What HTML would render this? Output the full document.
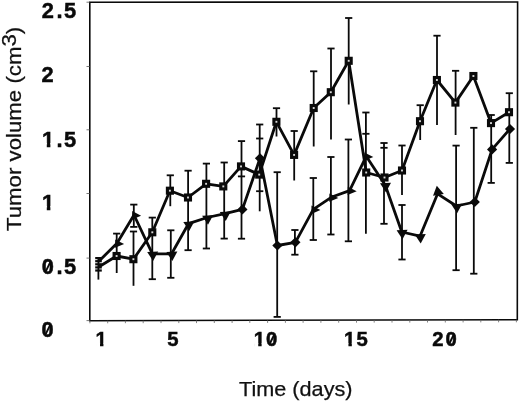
<!DOCTYPE html>
<html><head><meta charset="utf-8"><title>Tumor volume</title>
<style>
html,body{margin:0;padding:0;background:#fff;}
body{width:520px;height:403px;overflow:hidden;}
svg{display:block;}
.num{font-family:"Liberation Sans",sans-serif;font-weight:bold;fill:#0a0a0a;stroke:#0a0a0a;stroke-width:0.5px;}
.lab{font-family:"Liberation Sans",sans-serif;fill:#111;stroke:#111;stroke-width:0.25px;}
</style></head><body>
<svg width="520" height="403" viewBox="0 0 520 403">
<rect width="520" height="403" fill="#fff"/>
<polygon points="89.8,2.2 517.6,2.0 517.3,319.7 89.8,320.7" fill="none" stroke="#0a0a0a" stroke-width="1.6" stroke-linejoin="miter"/>
<line x1="86.5" y1="2.2" x2="89.8" y2="2.2" stroke="#555" stroke-width="0.8"/>
<line x1="86.5" y1="66.5" x2="89.8" y2="66.5" stroke="#555" stroke-width="0.8"/>
<line x1="86.5" y1="129.8" x2="89.8" y2="129.8" stroke="#555" stroke-width="0.8"/>
<line x1="86.5" y1="193.5" x2="89.8" y2="193.5" stroke="#555" stroke-width="0.8"/>
<line x1="86.5" y1="258.1" x2="89.8" y2="258.1" stroke="#555" stroke-width="0.8"/>
<line x1="86.5" y1="320.6" x2="89.8" y2="320.6" stroke="#555" stroke-width="0.8"/>
<line x1="89.9" y1="320.7" x2="89.9" y2="323.3" stroke="#666" stroke-width="0.8"/>
<line x1="107.7" y1="320.7" x2="107.7" y2="323.3" stroke="#666" stroke-width="0.8"/>
<line x1="125.4" y1="320.6" x2="125.4" y2="323.2" stroke="#666" stroke-width="0.8"/>
<line x1="143.2" y1="320.6" x2="143.2" y2="323.2" stroke="#666" stroke-width="0.8"/>
<line x1="161.0" y1="320.5" x2="161.0" y2="323.1" stroke="#666" stroke-width="0.8"/>
<line x1="178.8" y1="320.5" x2="178.8" y2="323.1" stroke="#666" stroke-width="0.8"/>
<line x1="196.5" y1="320.4" x2="196.5" y2="323.1" stroke="#666" stroke-width="0.8"/>
<line x1="214.3" y1="320.4" x2="214.3" y2="323.0" stroke="#666" stroke-width="0.8"/>
<line x1="232.1" y1="320.4" x2="232.1" y2="323.0" stroke="#666" stroke-width="0.8"/>
<line x1="249.8" y1="320.3" x2="249.8" y2="322.9" stroke="#666" stroke-width="0.8"/>
<line x1="267.6" y1="320.3" x2="267.6" y2="322.9" stroke="#666" stroke-width="0.8"/>
<line x1="285.4" y1="320.2" x2="285.4" y2="322.8" stroke="#666" stroke-width="0.8"/>
<line x1="303.1" y1="320.2" x2="303.1" y2="322.8" stroke="#666" stroke-width="0.8"/>
<line x1="320.9" y1="320.2" x2="320.9" y2="322.8" stroke="#666" stroke-width="0.8"/>
<line x1="338.7" y1="320.1" x2="338.7" y2="322.7" stroke="#666" stroke-width="0.8"/>
<line x1="356.5" y1="320.1" x2="356.5" y2="322.7" stroke="#666" stroke-width="0.8"/>
<line x1="374.2" y1="320.0" x2="374.2" y2="322.6" stroke="#666" stroke-width="0.8"/>
<line x1="392.0" y1="320.0" x2="392.0" y2="322.6" stroke="#666" stroke-width="0.8"/>
<line x1="409.8" y1="319.9" x2="409.8" y2="322.6" stroke="#666" stroke-width="0.8"/>
<line x1="427.5" y1="319.9" x2="427.5" y2="322.5" stroke="#666" stroke-width="0.8"/>
<line x1="445.3" y1="319.9" x2="445.3" y2="322.5" stroke="#666" stroke-width="0.8"/>
<line x1="463.1" y1="319.8" x2="463.1" y2="322.4" stroke="#666" stroke-width="0.8"/>
<line x1="480.8" y1="319.8" x2="480.8" y2="322.4" stroke="#666" stroke-width="0.8"/>
<line x1="498.6" y1="319.7" x2="498.6" y2="322.3" stroke="#666" stroke-width="0.8"/>
<line x1="516.4" y1="319.7" x2="516.4" y2="322.3" stroke="#666" stroke-width="0.8"/>
<g stroke="#0a0a0a" stroke-width="1.8" fill="none">
<line x1="98.4" y1="257.3" x2="98.4" y2="279.6"/>
<line x1="116.7" y1="233.6" x2="116.7" y2="273"/><line x1="113.1" y1="233.6" x2="120.3" y2="233.6"/>
<line x1="133.8" y1="204.6" x2="133.8" y2="226.9"/><line x1="130.2" y1="204.6" x2="137.4" y2="204.6"/><line x1="130.2" y1="226.9" x2="137.4" y2="226.9"/>
<line x1="133.5" y1="231.5" x2="133.5" y2="285.8"/><line x1="129.9" y1="231.5" x2="137.1" y2="231.5"/>
<line x1="152.3" y1="217.6" x2="152.3" y2="279.2"/><line x1="148.7" y1="217.6" x2="155.9" y2="217.6"/><line x1="148.7" y1="279.2" x2="155.9" y2="279.2"/>
<line x1="170.3" y1="175.3" x2="170.3" y2="206.2"/><line x1="166.7" y1="175.3" x2="173.9" y2="175.3"/>
<line x1="170.8" y1="230.3" x2="170.8" y2="277.8"/><line x1="167.2" y1="230.3" x2="174.4" y2="230.3"/><line x1="167.2" y1="277.8" x2="174.4" y2="277.8"/>
<line x1="188.1" y1="170.7" x2="188.1" y2="250.2"/><line x1="184.5" y1="170.7" x2="191.7" y2="170.7"/><line x1="184.5" y1="250.2" x2="191.7" y2="250.2"/>
<line x1="206.4" y1="163.6" x2="206.4" y2="248.5"/><line x1="202.8" y1="163.6" x2="210.0" y2="163.6"/><line x1="202.8" y1="248.5" x2="210.0" y2="248.5"/>
<line x1="224.2" y1="162.5" x2="224.2" y2="238.6"/><line x1="220.6" y1="162.5" x2="227.8" y2="162.5"/><line x1="220.6" y1="238.6" x2="227.8" y2="238.6"/>
<line x1="241.5" y1="141.1" x2="241.5" y2="238.7"/><line x1="237.9" y1="141.1" x2="245.1" y2="141.1"/><line x1="237.9" y1="176.4" x2="245.1" y2="176.4"/><line x1="237.9" y1="238.7" x2="245.1" y2="238.7"/>
<line x1="259.7" y1="124.5" x2="259.7" y2="211.3"/><line x1="256.1" y1="124.5" x2="263.3" y2="124.5"/><line x1="256.1" y1="138.5" x2="263.3" y2="138.5"/><line x1="256.1" y1="191.2" x2="263.3" y2="191.2"/>
<line x1="276.5" y1="108.2" x2="276.5" y2="136.5"/><line x1="272.9" y1="108.2" x2="280.1" y2="108.2"/>
<line x1="277.2" y1="172.2" x2="277.2" y2="316.9"/><line x1="273.6" y1="172.2" x2="280.8" y2="172.2"/><line x1="273.6" y1="316.9" x2="280.8" y2="316.9"/>
<line x1="294.2" y1="131" x2="294.2" y2="180.5"/><line x1="290.6" y1="131" x2="297.8" y2="131"/>
<line x1="294.9" y1="230" x2="294.9" y2="254.7"/><line x1="291.3" y1="230" x2="298.5" y2="230"/><line x1="291.3" y1="254.7" x2="298.5" y2="254.7"/>
<line x1="313.7" y1="71.3" x2="313.7" y2="146.5"/><line x1="310.1" y1="71.3" x2="317.3" y2="71.3"/>
<line x1="313.3" y1="178" x2="313.3" y2="240"/><line x1="309.7" y1="178" x2="316.9" y2="178"/><line x1="309.7" y1="240" x2="316.9" y2="240"/>
<line x1="331.0" y1="48.5" x2="331.0" y2="139.6"/><line x1="327.4" y1="48.5" x2="334.6" y2="48.5"/>
<line x1="330.9" y1="157" x2="330.9" y2="234.5"/><line x1="327.3" y1="157" x2="334.5" y2="157"/><line x1="327.3" y1="234.5" x2="334.5" y2="234.5"/>
<line x1="348.7" y1="18" x2="348.7" y2="104.5"/><line x1="345.1" y1="18" x2="352.3" y2="18"/>
<line x1="348.4" y1="139.5" x2="348.4" y2="241.3"/><line x1="344.8" y1="139.5" x2="352.0" y2="139.5"/><line x1="344.8" y1="241.3" x2="352.0" y2="241.3"/>
<line x1="365.9" y1="112.5" x2="365.9" y2="233.8"/><line x1="362.3" y1="112.5" x2="369.5" y2="112.5"/><line x1="362.3" y1="133.8" x2="369.5" y2="133.8"/>
<line x1="384.0" y1="143" x2="384.0" y2="223.8"/><line x1="380.4" y1="143" x2="387.6" y2="143"/><line x1="380.4" y1="147.8" x2="387.6" y2="147.8"/><line x1="380.4" y1="223.8" x2="387.6" y2="223.8"/>
<line x1="402" y1="145.5" x2="402" y2="195"/><line x1="398.4" y1="145.5" x2="405.6" y2="145.5"/>
<line x1="402" y1="205" x2="402" y2="259.5"/><line x1="398.4" y1="205" x2="405.6" y2="205"/><line x1="398.4" y1="259.5" x2="405.6" y2="259.5"/>
<line x1="420.2" y1="105.2" x2="420.2" y2="140"/><line x1="416.6" y1="105.2" x2="423.8" y2="105.2"/>
<line x1="437" y1="35.7" x2="437" y2="125"/><line x1="433.4" y1="35.7" x2="440.6" y2="35.7"/>
<line x1="455.6" y1="70.8" x2="455.6" y2="135"/><line x1="452.0" y1="70.8" x2="459.2" y2="70.8"/>
<line x1="456.1" y1="145.6" x2="456.1" y2="270.2"/><line x1="452.5" y1="145.6" x2="459.7" y2="145.6"/><line x1="452.5" y1="270.2" x2="459.7" y2="270.2"/>
<line x1="473.8" y1="127.8" x2="473.8" y2="273.7"/><line x1="470.2" y1="127.8" x2="477.4" y2="127.8"/><line x1="470.2" y1="273.7" x2="477.4" y2="273.7"/>
<line x1="491.2" y1="115" x2="491.2" y2="182.9"/><line x1="487.6" y1="115" x2="494.8" y2="115"/><line x1="487.6" y1="182.9" x2="494.8" y2="182.9"/>
<line x1="509.3" y1="93.2" x2="509.3" y2="162.9"/><line x1="505.7" y1="93.2" x2="512.9" y2="93.2"/><line x1="505.7" y1="162.9" x2="512.9" y2="162.9"/>
</g>
<line x1="95.2" y1="258.1" x2="101.8" y2="258.1" stroke="#0a0a0a" stroke-width="2.2"/><line x1="95.2" y1="261.2" x2="101.8" y2="261.2" stroke="#0a0a0a" stroke-width="2.2"/><line x1="95.2" y1="264.3" x2="101.8" y2="264.3" stroke="#0a0a0a" stroke-width="2.2"/><line x1="95.2" y1="267.4" x2="101.8" y2="267.4" stroke="#0a0a0a" stroke-width="2.2"/><line x1="95.2" y1="270.5" x2="101.8" y2="270.5" stroke="#0a0a0a" stroke-width="2.2"/>
<polyline points="98.6,267 116.6,256 133.4,259.2 152.3,232.3 169.9,190.7 188,197.5 206.1,183.8 223.3,186.4 241,166.4 259.2,174.6 276.4,121.8 294.1,154.9 313.7,108 330.8,92.2 348.7,60.8 366.2,172.5 384.5,177.5 402,170.5 420,121.2 436.9,80 455.4,102.6 473.4,76 491,123.1 509,112.2" fill="none" stroke="#0a0a0a" stroke-width="2.8" stroke-linejoin="round"/>
<polyline points="98.6,261.5 117.0,243.3 134.0,215.0 152.4,253.8 171.6,253.8 188.5,223.7 207.3,217.5 225,213.7 242.4,209.4 260,158.3 277.4,245.5 295.4,242.3 313.3,209.4 331.2,197.3 349.6,190.6 366.2,156.3 385.2,185.0 401.8,232.0 420.0,236.2 437.6,193.8 456.4,206.0 474.8,202 492.1,149.4 510,129" fill="none" stroke="#0a0a0a" stroke-width="2.8" stroke-linejoin="round"/>
<g fill="#d8d8d8" stroke="#0a0a0a" stroke-width="3.1">
<rect x="114.1" y="253.5" width="5" height="5"/><rect x="130.9" y="256.7" width="5" height="5"/><rect x="149.8" y="229.8" width="5" height="5"/><rect x="167.4" y="188.2" width="5" height="5"/><rect x="185.5" y="195.0" width="5" height="5"/><rect x="203.6" y="181.3" width="5" height="5"/><rect x="220.8" y="183.9" width="5" height="5"/><rect x="238.5" y="163.9" width="5" height="5"/><rect x="256.7" y="172.1" width="5" height="5"/><rect x="273.9" y="119.3" width="5" height="5"/><rect x="291.6" y="152.4" width="5" height="5"/><rect x="311.2" y="105.5" width="5" height="5"/><rect x="328.3" y="89.7" width="5" height="5"/><rect x="346.2" y="58.3" width="5" height="5"/><rect x="363.7" y="170.0" width="5" height="5"/><rect x="382.0" y="175.0" width="5" height="5"/><rect x="399.5" y="168.0" width="5" height="5"/><rect x="417.5" y="118.7" width="5" height="5"/><rect x="434.4" y="77.5" width="5" height="5"/><rect x="452.9" y="100.1" width="5" height="5"/><rect x="470.9" y="73.5" width="5" height="5"/><rect x="488.5" y="120.6" width="5" height="5"/><rect x="506.5" y="109.7" width="5" height="5"/>
</g>
<g fill="#0a0a0a">
<polygon points="115.2,239.4 124.1,244.0 115.0,247.8"/><polygon points="132.2,211.1 141.1,215.7 132.0,219.5"/><polygon points="147.2,252.1 158.2,251.5 153.1,261.0"/><polygon points="166.4,252.1 177.4,251.5 172.3,261.0"/><polygon points="183.3,222.0 194.3,221.4 189.2,230.9"/><polygon points="202.1,215.8 213.1,215.2 208.0,224.7"/><polygon points="219.8,212.0 230.8,211.4 225.7,220.9"/><polygon points="237.3,209.4 242.4,204.3 247.5,209.4 242.4,214.5"/><polygon points="254.9,158.3 260.0,153.2 265.1,158.3 260.0,163.4"/><polygon points="272.3,245.5 277.4,240.4 282.5,245.5 277.4,250.6"/><polygon points="290.3,242.3 295.4,237.2 300.5,242.3 295.4,247.4"/><polygon points="311.5,205.5 320.4,210.1 311.3,213.9"/><polygon points="329.4,193.4 338.3,198.0 329.2,201.8"/><polygon points="347.8,186.7 356.7,191.3 347.6,195.1"/><polygon points="364.4,152.4 373.3,157.0 364.2,160.8"/><polygon points="380.0,183.3 391.0,182.7 385.9,192.2"/><polygon points="396.6,230.3 407.6,229.7 402.5,239.2"/><polygon points="414.8,234.5 425.8,233.9 420.7,243.4"/><polygon points="433.0,195.8 443.8,194.0 436.8,185.8"/><polygon points="451.2,204.3 462.2,203.7 457.1,213.2"/><polygon points="469.7,202.0 474.8,196.9 479.9,202.0 474.8,207.1"/><polygon points="487.0,149.4 492.1,144.3 497.2,149.4 492.1,154.5"/><polygon points="504.9,129.0 510.0,123.9 515.1,129.0 510.0,134.1"/>
</g>
<text class="num" font-size="21.8" x="41.70 56.40 64.00" y="18.4">2.5</text>
<text class="num" font-size="21.8" x="41.60" y="81.6">2</text>
<text class="num" font-size="21.8" x="42.00 56.40 64.00" y="146.6">1.5</text>
<rect x="42.44" y="143.00" width="4.34" height="5.80" fill="#fff"/><rect x="50.39" y="143.00" width="4.04" height="5.80" fill="#fff"/>
<text class="num" font-size="21.8" x="42.00" y="209.7">1</text>
<rect x="42.44" y="206.00" width="4.34" height="5.90" fill="#fff"/><rect x="50.39" y="206.00" width="4.04" height="5.90" fill="#fff"/>
<text class="num" font-size="21.8" x="41.70 56.40 64.00" y="274.4">0.5</text>
<line x1="45.8" y1="271.3" x2="50.4" y2="261.9" stroke="#0a0a0a" stroke-width="1.9"/>
<text class="num" font-size="21.8" x="41.60" y="337.2">0</text>
<line x1="45.7" y1="334.1" x2="50.3" y2="324.7" stroke="#0a0a0a" stroke-width="1.9"/>
<text class="num" font-size="20.3" x="95.60" y="346.4">1</text>
<rect x="96.01" y="343.00" width="4.02" height="5.60" fill="#fff"/><rect x="103.43" y="343.00" width="3.74" height="5.60" fill="#fff"/>
<text class="num" font-size="20.3" x="167.30" y="346.4">5</text>
<text class="num" font-size="20.3" x="253.80 266.00" y="346.4">10</text>
<rect x="254.21" y="343.00" width="4.02" height="5.60" fill="#fff"/><rect x="261.63" y="343.00" width="3.74" height="5.60" fill="#fff"/>
<line x1="269.9" y1="343.5" x2="274.1" y2="334.8" stroke="#0a0a0a" stroke-width="1.9"/>
<text class="num" font-size="20.3" x="344.00 356.40" y="346.4">15</text>
<rect x="344.41" y="343.00" width="4.02" height="5.60" fill="#fff"/><rect x="351.83" y="343.00" width="3.74" height="5.60" fill="#fff"/>
<text class="num" font-size="20.3" x="432.30 445.50" y="346.4">20</text>
<line x1="449.4" y1="343.5" x2="453.6" y2="334.8" stroke="#0a0a0a" stroke-width="1.9"/>
<text class="lab" font-size="20.2" x="239" y="396.2" textLength="113.5" lengthAdjust="spacingAndGlyphs">Time (days)</text>
<text class="lab" font-size="20.2" transform="translate(20.5,231) rotate(-90)" textLength="204.2" lengthAdjust="spacingAndGlyphs">Tumor volume (cm<tspan dy="-4.8">3</tspan><tspan dy="4.8">)</tspan></text>
</svg>
</body></html>
